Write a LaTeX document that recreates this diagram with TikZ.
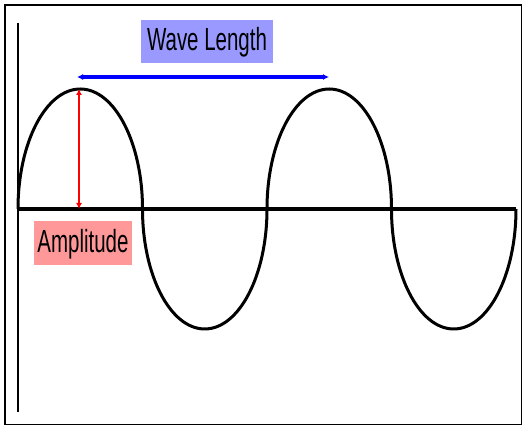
\documentclass[tikz,border=0pt]{standalone}
\usepackage{fontspec}
\newfontfamily\labelfont{Liberation Sans}[FakeStretch=0.64]
\usetikzlibrary{arrows.meta}
\begin{document}
\begin{tikzpicture}[x=1pt, y=1pt, >={Latex[length=6pt,width=6pt]},
  tag/.style={inner sep=0pt, font=\labelfont\fontsize{32}{32}\selectfont},
  wave/.style={line width=3pt}]
\useasboundingbox (0,0) rectangle (523,426);
\draw[line width=1.5pt] (5,1.5) rectangle (521.5,421);
% axes
\coordinate (top) at (18,403);
\coordinate (bot) at (18,14);
\coordinate (o) at (18,217);
\coordinate (end) at (516,217);
\draw[line width=2pt] (top) -- (bot);
\draw[line width=3.5pt] (o) -- (end);
% the wave
\draw[wave] (o) arc[start angle=180, end angle=0, x radius=62.25, y radius=120]
  arc[start angle=180, end angle=360, x radius=62.25, y radius=120]
  arc[start angle=180, end angle=0, x radius=62.25, y radius=120]
  arc[start angle=180, end angle=360, x radius=62.25, y radius=120];
% measures
\coordinate (crest) at (79,337);
\coordinate (foot) at (79,217);
\coordinate (wl1) at (77,349);
\coordinate (wl2) at (329,349);
\draw[<->, red, line width=2.2pt] (crest) -- (foot);
\draw[<->, blue, line width=3.2pt] (wl1) -- (wl2);
\node[tag, fill={rgb,255:red,153;green,153;blue,255}, minimum width=132pt, minimum height=43pt, text depth=5pt] (wl) at (207,384.5) {Wave Length};
\node[tag, fill={rgb,255:red,255;green,153;blue,153}, minimum width=98pt, minimum height=44pt, text depth=5pt] (amp) at (83,183) {Amplitude};
\end{tikzpicture}
\end{document}
